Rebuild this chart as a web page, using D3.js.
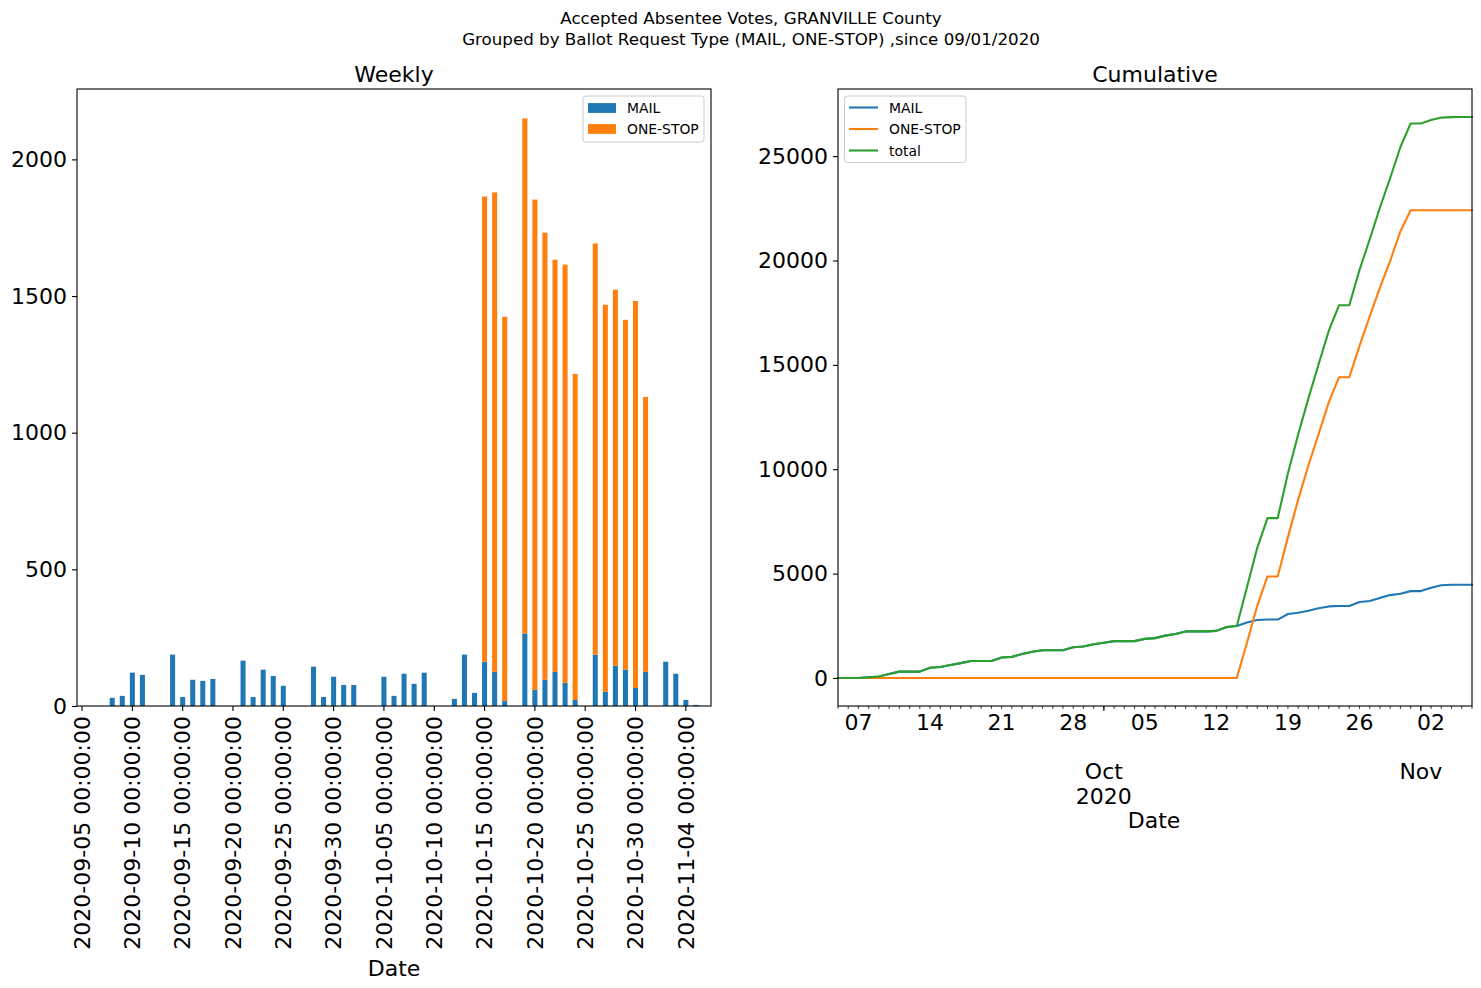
<!DOCTYPE html>
<html><head><meta charset="utf-8">
<script src="https://cdn.jsdelivr.net/npm/d3@7"></script>
<style>body{margin:0;background:#fff} svg{display:block;font-family:"DejaVu Sans",sans-serif}</style>
</head><body><svg id="c" width="1481" height="988"></svg>
<script>
// ---------------- data ----------------
const dates = [
"2020-09-05","2020-09-06","2020-09-07","2020-09-08","2020-09-09","2020-09-10","2020-09-11","2020-09-12","2020-09-13","2020-09-14",
"2020-09-15","2020-09-16","2020-09-17","2020-09-18","2020-09-19","2020-09-20","2020-09-21","2020-09-22","2020-09-23","2020-09-24",
"2020-09-25","2020-09-26","2020-09-27","2020-09-28","2020-09-29","2020-09-30","2020-10-01","2020-10-02","2020-10-03","2020-10-04",
"2020-10-05","2020-10-06","2020-10-07","2020-10-08","2020-10-09","2020-10-10","2020-10-11","2020-10-12","2020-10-13","2020-10-14",
"2020-10-15","2020-10-16","2020-10-17","2020-10-18","2020-10-19","2020-10-20","2020-10-21","2020-10-22","2020-10-23","2020-10-24",
"2020-10-25","2020-10-26","2020-10-27","2020-10-28","2020-10-29","2020-10-30","2020-10-31","2020-11-01","2020-11-02","2020-11-03",
"2020-11-04","2020-11-05","2020-11-06"];
const mail = [
0,0,0,30,37,122,114,0,0,188,
33,96,92,99,0,0,166,33,133,110,
74,0,0,144,33,107,77,77,0,0,
107,37,118,81,122,0,0,26,188,48,
162,125,18,0,265,59,96,125,85,22,
0,188,52,147,133,66,125,0,162,118,
22,4,0];
const oneStop = [
0,0,0,0,0,0,0,0,0,0,
0,0,0,0,0,0,0,0,0,0,
0,0,0,0,0,0,0,0,0,0,
0,0,0,0,0,0,0,0,0,0,
1702,1754,1406,0,1885,1794,1636,1508,1530,1193,
0,1504,1416,1376,1280,1416,1006,0,0,0,
0,0,0];
const seriesNames = ["MAIL","ONE-STOP","total"];
const weeklyTickDates = ["2020-09-05","2020-09-10","2020-09-15","2020-09-20","2020-09-25","2020-09-30","2020-10-05","2020-10-10","2020-10-15","2020-10-20","2020-10-25","2020-10-30","2020-11-04"];
const weeklyYTicks = [0,500,1000,1500,2000];
const cumYTicks = [0,5000,10000,15000,20000,25000];
const cumDayLabels = ["2020-09-07","2020-09-14","2020-09-21","2020-09-28","2020-10-05","2020-10-12","2020-10-19","2020-10-26","2020-11-02"];
const cumMonthDates = ["2020-10-01","2020-11-01"];
const cumMonthLabels = [["Oct","2020"],["Nov"]];
const titleLines = ["Accepted Absentee Votes, GRANVILLE County","Grouped by Ballot Request Type (MAIL, ONE-STOP) ,since 09/01/2020"];

// ---------------- setup ----------------
const C = {mail:"#1f77b4", one:"#ff7f0e", tot:"#2ca02c"};
const svg = d3.select("#c");
const FS = 22;
const parse = d3.utcParse("%Y-%m-%d");

// suptitle
svg.append("g").selectAll("text").data(titleLines).join("text")
  .attr("x", 751).attr("y", (d,i)=>24+i*21).attr("text-anchor","middle")
  .attr("font-size",16.7).text(d=>d);

// ---------------- left: weekly ----------------
const L = {x0:77, x1:711, y0:89, y1:706};
const xb = d3.scaleBand().domain(dates).range([L.x0,L.x1]).paddingInner(0.5).paddingOuter(0.25);
const yW = d3.scaleLinear().domain([0, d3.max(dates.map((d,i)=>mail[i]+oneStop[i]))*1.05]).range([L.y1,L.y0]);
const gL = svg.append("g");
gL.append("g").selectAll("rect.m").data(dates).join("rect")
  .attr("x", d=>xb(d)).attr("width", xb.bandwidth())
  .attr("y", (d,i)=>yW(mail[i])).attr("height",(d,i)=>yW(0)-yW(mail[i])).attr("fill",C.mail);
gL.append("g").selectAll("rect.o").data(dates).join("rect")
  .attr("x", d=>xb(d)).attr("width", xb.bandwidth())
  .attr("y", (d,i)=>yW(mail[i]+oneStop[i])).attr("height",(d,i)=>yW(mail[i])-yW(mail[i]+oneStop[i])).attr("fill",C.one);

// x axis weekly
const axL = gL.append("g").attr("transform",`translate(0,${L.y1})`)
  .call(d3.axisBottom(xb).tickValues(weeklyTickDates).tickSize(5).tickSizeOuter(0).tickFormat(d=>d+" 00:00:00"));
axL.select(".domain").remove();
axL.selectAll(".tick line").attr("stroke","#000").attr("stroke-width",1.1);
axL.selectAll(".tick text").attr("font-size",FS).attr("fill","#000").attr("font-family","DejaVu Sans")
  .attr("transform","rotate(-90)").attr("text-anchor","end").attr("x",-10).attr("y",0).attr("dy","0.35em");
// y axis weekly
const ayL = gL.append("g").attr("transform",`translate(${L.x0},0)`)
  .call(d3.axisLeft(yW).tickValues(weeklyYTicks).tickSize(5).tickPadding(5).tickFormat(d3.format("d")));
ayL.select(".domain").remove();
ayL.selectAll(".tick line").attr("stroke","#000").attr("stroke-width",1.1);
ayL.selectAll(".tick text").attr("font-size",FS).attr("fill","#000").attr("font-family","DejaVu Sans");
gL.append("rect").attr("x",L.x0).attr("y",L.y0).attr("width",L.x1-L.x0).attr("height",L.y1-L.y0)
  .attr("fill","none").attr("stroke","#000").attr("stroke-width",1.1);
gL.append("text").attr("x",(L.x0+L.x1)/2).attr("y",82).attr("text-anchor","middle").attr("font-size",FS).text("Weekly");
gL.append("text").attr("x",(L.x0+L.x1)/2).attr("y",976).attr("text-anchor","middle").attr("font-size",FS).text("Date");
// legend weekly
const lgL = gL.append("g");
lgL.append("rect").attr("x",583).attr("y",96).attr("width",121).attr("height",46).attr("rx",3)
  .attr("fill","#fff").attr("fill-opacity",0.8).attr("stroke","#cccccc").attr("stroke-width",1);
[[seriesNames[0],C.mail],[seriesNames[1],C.one]].forEach(([n,c],i)=>{
  const cy = 108 + i*21;
  lgL.append("rect").attr("x",588).attr("y",cy-4.9).attr("width",28).attr("height",9.8).attr("fill",c);
  lgL.append("text").attr("x",627).attr("y",cy+5).attr("font-size",13.9).text(n);
});

// ---------------- right: cumulative ----------------
const R = {x0:838, x1:1472, y0:89, y1:706};
const cMail = d3.cumsum(mail), cOne = d3.cumsum(oneStop);
const cTot = Array.from(cMail, (v,i)=>v+cOne[i]);
const dd = dates.map(parse);
const xt = d3.scaleUtc().domain(d3.extent(dd)).range([R.x0,R.x1]);
const tmax = d3.max(cTot), tmin = 0, pad = (tmax-tmin)*0.05;
const yC = d3.scaleLinear().domain([tmin-pad, tmax+pad]).range([R.y1,R.y0]);
const gR = svg.append("g");
const line = d3.line().x((v,i)=>xt(dd[i])).y(v=>yC(v));
[[cMail,C.mail],[cOne,C.one],[cTot,C.tot]].forEach(([arr,c])=>{
  gR.append("path").datum(Array.from(arr)).attr("d",line).attr("fill","none").attr("stroke",c)
    .attr("stroke-width",2.1).attr("stroke-linejoin","round").attr("stroke-linecap","square");
});
// x axis cumulative: daily minor ticks
gR.append("g").selectAll("line").data(dd).join("line")
  .attr("x1",d=>xt(d)).attr("x2",d=>xt(d)).attr("y1",R.y1).attr("y2",R.y1+2.8)
  .attr("stroke","#000").attr("stroke-width",0.8);
gR.append("g").selectAll("line").data(cumMonthDates.map(parse)).join("line")
  .attr("x1",d=>xt(d)).attr("x2",d=>xt(d)).attr("y1",R.y1).attr("y2",R.y1+4.9)
  .attr("stroke","#000").attr("stroke-width",1.1);
gR.append("g").selectAll("text").data(cumDayLabels).join("text")
  .attr("x",d=>xt(parse(d))).attr("y",730).attr("text-anchor","middle").attr("font-size",FS)
  .text(d=>d.slice(8));
cumMonthDates.forEach((d,i)=>{
  cumMonthLabels[i].forEach((s,j)=>{
    gR.append("text").attr("x",xt(parse(d))).attr("y",779+j*24.5).attr("text-anchor","middle").attr("font-size",FS).text(s);
  });
});
// y axis cumulative
const ayR = gR.append("g").attr("transform",`translate(${R.x0},0)`)
  .call(d3.axisLeft(yC).tickValues(cumYTicks).tickSize(5).tickPadding(5).tickFormat(d3.format("d")));
ayR.select(".domain").remove();
ayR.selectAll(".tick line").attr("stroke","#000").attr("stroke-width",1.1);
ayR.selectAll(".tick text").attr("font-size",FS).attr("fill","#000").attr("font-family","DejaVu Sans");
gR.append("rect").attr("x",R.x0).attr("y",R.y0).attr("width",R.x1-R.x0).attr("height",R.y1-R.y0)
  .attr("fill","none").attr("stroke","#000").attr("stroke-width",1.1);
gR.append("text").attr("x",(R.x0+R.x1)/2).attr("y",82).attr("text-anchor","middle").attr("font-size",FS).text("Cumulative");
gR.append("text").attr("x",1154).attr("y",828).attr("text-anchor","middle").attr("font-size",FS).text("Date");
// legend cumulative
const lgR = gR.append("g");
lgR.append("rect").attr("x",844.5).attr("y",96).attr("width",121.5).attr("height",66.5).attr("rx",3)
  .attr("fill","#fff").attr("fill-opacity",0.8).attr("stroke","#cccccc").attr("stroke-width",1);
[[seriesNames[0],C.mail],[seriesNames[1],C.one],[seriesNames[2],C.tot]].forEach(([n,c],i)=>{
  const cy = 107.5 + i*21.5;
  lgR.append("line").attr("x1",849).attr("x2",878).attr("y1",cy).attr("y2",cy).attr("stroke",c).attr("stroke-width",2.1);
  lgR.append("text").attr("x",889).attr("y",cy+5).attr("font-size",13.9).text(n);
});
</script></body></html>
